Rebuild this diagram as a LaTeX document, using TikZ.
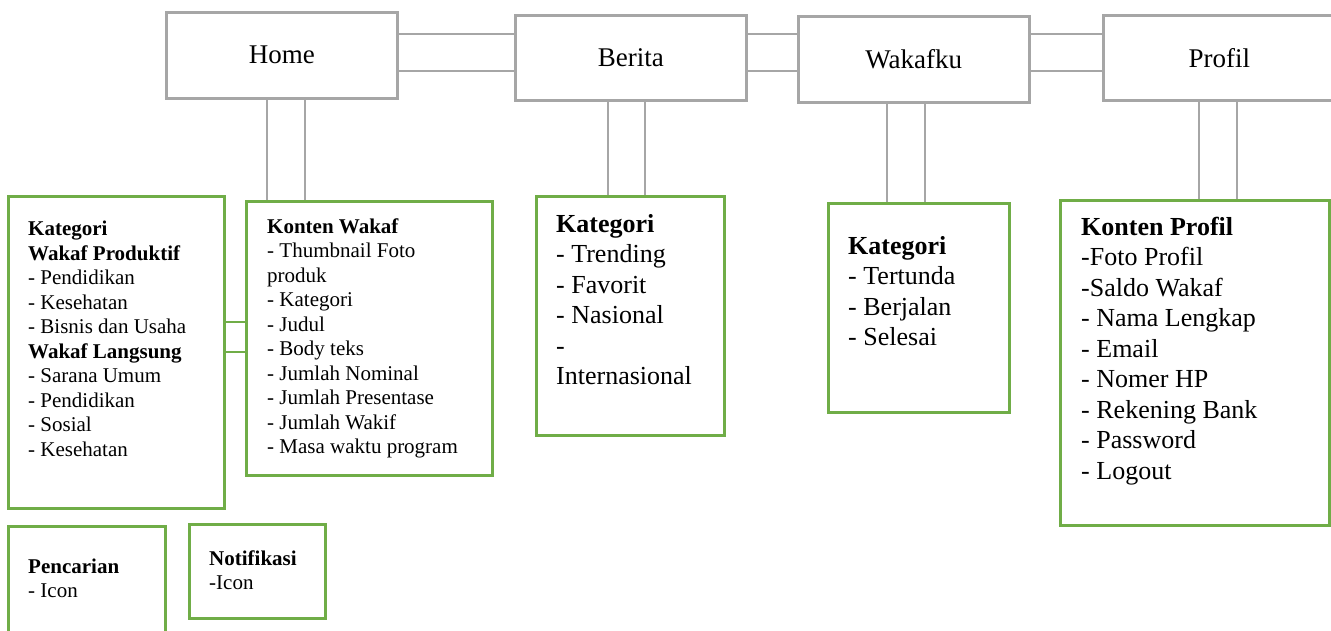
\documentclass[tikz,border=0pt]{standalone}
\usepackage{fontspec}
\setmainfont{Liberation Serif}
\definecolor{boxgray}{HTML}{A6A6A6}
\definecolor{boxgreen}{HTML}{70AD47}
\begin{document}
\begin{tikzpicture}[x=1pt,y=-1pt,
  topbox/.style={draw=boxgray, line width=2.5pt, anchor=north west, inner sep=0pt, font=\fontsize{27}{32}\selectfont},
  greenbox/.style={draw=boxgreen, line width=2.5pt, anchor=north west, inner sep=0pt},
  conn/.style={draw=boxgray, line width=2.2pt},
  gconn/.style={draw=boxgreen, line width=2.5pt},
  smalltxt/.style={anchor=north west, inner sep=0pt, align=left, font=\fontsize{21}{24.5}\selectfont},
  bigtxt/.style={anchor=north west, inner sep=0pt, align=left, font=\fontsize{26}{30.5}\selectfont}]
\clip (0,0) rectangle (1331,630);
\fill[white] (0,0) rectangle (1331,630);

% top menu boxes
\node[topbox, minimum width=231pt, minimum height=86pt] (home) at (165,11) {Home};
\node[topbox, minimum width=231pt, minimum height=85pt] (berita) at (514,14) {Berita};
\node[topbox, minimum width=231pt, minimum height=86pt] (wakafku) at (797,15) {Wakafku};
\node[topbox, minimum width=232pt, minimum height=85pt] (profil) at (1102,14) {Profil};

% content boxes
\node[greenbox, minimum width=216pt, minimum height=312pt] (kwp) at (7,195) {};
\node[greenbox, minimum width=246pt, minimum height=274pt] (kw) at (245,200) {};
\node[greenbox, minimum width=188pt, minimum height=239pt] (bk) at (535,195) {};
\node[greenbox, minimum width=181pt, minimum height=209pt] (wk) at (827,202) {};
\node[greenbox, minimum width=269pt, minimum height=325pt] (pk) at (1059,199) {};
\node[greenbox, minimum width=157pt, minimum height=130pt] (pc) at (7,525) {};
\node[greenbox, minimum width=136pt, minimum height=94pt] (nt) at (188,523) {};

% texts
\node[smalltxt] (kwpt) at (28,218.35) {\strut\textbf{Kategori}\\\textbf{Wakaf Produktif}\\- Pendidikan\\- Kesehatan\\- Bisnis dan Usaha\\\textbf{Wakaf Langsung}\\- Sarana Umum\\- Pendidikan\\- Sosial\\- Kesehatan};
\node[smalltxt] (kwt) at (267,215.85) {\strut\textbf{Konten Wakaf}\\- Thumbnail Foto\\produk\\- Kategori\\- Judul\\- Body teks\\- Jumlah Nominal\\- Jumlah Presentase\\- Jumlah Wakif\\- Masa waktu program};
\node[bigtxt] (bkt) at (556,210.65) {\strut\textbf{Kategori}\\- Trending\\- Favorit\\- Nasional\\-\\Internasional};
\node[bigtxt] (wkt) at (848,232.65) {\strut\textbf{Kategori}\\- Tertunda\\- Berjalan\\- Selesai};
\node[bigtxt] (pkt) at (1081,213.65) {\strut\textbf{Konten Profil}\\-Foto Profil\\-Saldo Wakaf\\- Nama Lengkap\\- Email\\- Nomer HP\\- Rekening Bank\\- Password\\- Logout};
\node[smalltxt] (pct) at (28,555.85) {\strut\textbf{Pencarian}\\- Icon};
\node[smalltxt] (ntt) at (209,547.85) {\strut\textbf{Notifikasi}\\-Icon};

% horizontal connectors between top boxes
\foreach \yy in {34,71} {
  \draw[conn] (home.east |- 0,\yy) -- (berita.west |- 0,\yy);
  \draw[conn] (berita.east |- 0,\yy) -- (wakafku.west |- 0,\yy);
  \draw[conn] (wakafku.east |- 0,\yy) -- (profil.west |- 0,\yy);
}
% vertical connectors
\foreach \xx in {267,305} {\draw[conn] (home.south -| \xx,0) -- (kw.north -| \xx,0);}
\foreach \xx in {608,645} {\draw[conn] (berita.south -| \xx,0) -- (bk.north -| \xx,0);}
\foreach \xx in {887,925} {\draw[conn] (wakafku.south -| \xx,0) -- (wk.north -| \xx,0);}
\foreach \xx in {1199,1237} {\draw[conn] (profil.south -| \xx,0) -- (pk.north -| \xx,0);}
% green connectors
\foreach \yy in {322,352} {\draw[gconn] (kwp.east |- 0,\yy) -- (kw.west |- 0,\yy);}
\end{tikzpicture}
\end{document}
